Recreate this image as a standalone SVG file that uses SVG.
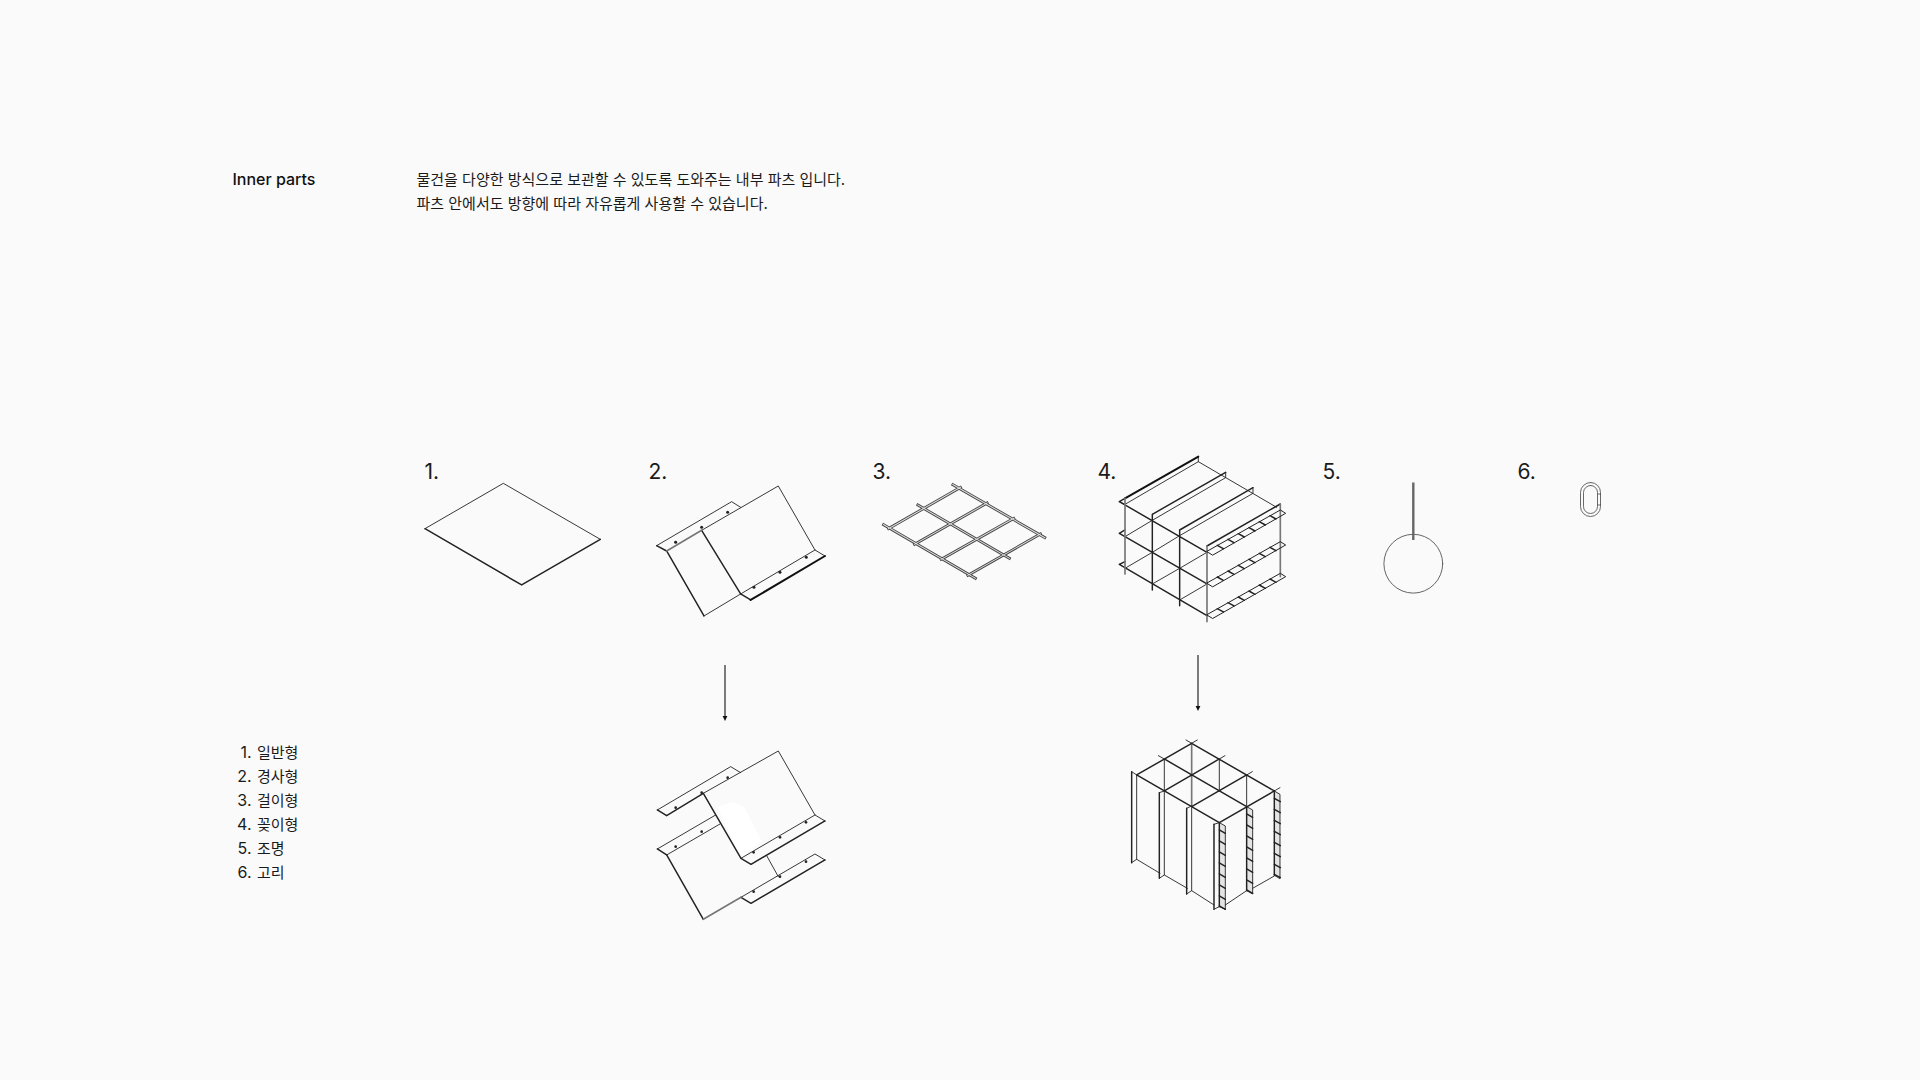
<svg xmlns="http://www.w3.org/2000/svg" xmlns:xlink="http://www.w3.org/1999/xlink" width="1920" height="1080" viewBox="0 0 1920 1080">
<style>
text{font-family:Inter,"Noto Sans CJK KR","Noto Sans",sans-serif;fill:#1a1a1a}
.t{font-size:15px}
.h{font-size:16px;font-weight:500;fill:#111}
.n{font-size:21px;font-weight:400}
.m{font-size:16px}
.e{text-anchor:end}
path,rect,circle,polygon{fill:none;stroke:#222;stroke-linejoin:round;stroke-linecap:round}
.z{stroke-width:2.7}
.k{stroke-width:4.4;stroke:#222}
.b{stroke-width:6;stroke:#111}
.g{stroke-width:5;stroke:#777}
.d{fill:#222;stroke:none}
.ro{stroke-width:8.5;stroke:#444;stroke-linecap:butt}
.ri{stroke-width:3.2;stroke:#ddd;stroke-linecap:butt}
.ar{stroke:#444;stroke-width:1.4;stroke-linecap:butt}
.ah{fill:#111;stroke:none}
.lad{fill:#e4e4e4;stroke:none}
</style>
<defs>
<g id="strip">
<path class="z" d="M351 319L571 195L587 205L369 330Z" style="stroke-width:3"/>
<path class="k" d="M382 301L400 311M414 283L432 293M445 266L463 276M477 248L495 258M508 230L526 240M540 212L558 222"/>
</g>
<g id="rungs">
<path class="k" d="M0 22L18 32M0 55L18 65M0 88L18 98M0 121L18 131M0 154L18 164M0 187L18 197M0 220L18 230M0 250L18 260"/>
</g>
</defs>
<rect width="1920" height="1080" style="fill:#fafafa;stroke:none"/>

<g id="header">
<text class="h" x="232.5" y="185">Inner parts</text>
<text class="t" x="416.5" y="185">물건을 다양한 방식으로 보관할 수 있도록 도와주는 내부 파츠 입니다.</text>
<text class="t" x="416.5" y="209">파츠 안에서도 방향에 따라 자유롭게 사용할 수 있습니다.</text>
</g>

<g id="legend">
<text class="t" y="757.5"><tspan class="e m" x="251.5">1.</tspan><tspan x="257">일반형</tspan></text>
<text class="t" y="781.5"><tspan class="e m" x="251.5">2.</tspan><tspan x="257">경사형</tspan></text>
<text class="t" y="805.5"><tspan class="e m" x="251.5">3.</tspan><tspan x="257">걸이형</tspan></text>
<text class="t" y="829.5"><tspan class="e m" x="251.5">4.</tspan><tspan x="257">꽂이형</tspan></text>
<text class="t" y="853.5"><tspan class="e m" x="251.5">5.</tspan><tspan x="257">조명</tspan></text>
<text class="t" y="877.5"><tspan class="e m" x="251.5">6.</tspan><tspan x="257">고리</tspan></text>
</g>

<g id="part-1">
<text class="n" x="424.5" y="478.5">1.</text>
<g transform="translate(410 450) scale(.3333)">
<path class="z" d="M45 236L280 100L571 268"/>
<path class="k" d="M45 236L335 405L571 268"/>
</g>
</g>

<g id="part-2">
<text class="n" x="648.5" y="478.5">2.</text>
<g transform="translate(410 450) scale(.3333)">
<path class="z" d="M740 287L965 155L992 172M875 241L1105 108L1215 300L1245 318M992 432L1215 300M992 432L882 498"/>
<path class="k" d="M740 287L770 303L882 498M875 241L992 432L1022 450"/>
<path class="b" d="M1022 450L1245 318"/>
<path class="g" d="M770 303L875 241"/>
<g><circle class="d" cx="797" cy="277" r="4.5"/><circle class="d" cx="875" cy="232" r="4.5"/><circle class="d" cx="953" cy="187" r="4.5"/><circle class="d" cx="1032" cy="412" r="4.5"/><circle class="d" cx="1110" cy="367" r="4.5"/><circle class="d" cx="1189" cy="322" r="4.5"/></g>
</g>
</g>

<g id="part-3">
<text class="n" x="872.5" y="478.5">3.</text>
<g transform="translate(860 450) scale(.3333)">
<path class="ro" d="M82 238L305 110M160 285L385 157M240 330L465 203M320 378L545 250M275 102L558 265M170 163L452 327M67 222L350 387"/>
<path class="ri" d="M84 237L303 111M162 284L383 158M242 329L463 204M322 377L543 251M277 103L556 264M172 164L450 326M69 223L348 386"/>
</g>
</g>

<g id="part-4">
<text class="n" x="1097.5" y="478.5">4.</text>
<g transform="translate(1090 445) scale(.3333)">
<path class="z" d="M105 178L325 50L325 35M187 226L407 98L407 82M269 272L489 145L489 128M325 50L560 187M88 170L105 178M105 275L187 226M187 322L269 272M269 370L351 322M105 370L187 322M187 417L269 370M269 465L351 417"/>
<path class="b" d="M105 160L325 35"/>
<path class="k" d="M88 170L105 160M187 208L407 82M269 255L489 128M351 303L571 177M88 170L351 322M88 265L351 417M88 358L351 512M88 265L105 255M88 358L105 350M187 208V435M269 255V482"/>
<path class="g" d="M105 160V387M351 303V530M571 177V395"/>
<use xlink:href="#strip"/>
<use xlink:href="#strip" y="95"/>
<use xlink:href="#strip" y="190"/>
</g>
</g>

<g id="part-5">
<text class="n" x="1322.5" y="478.5">5.</text>
<circle style="stroke:#555;stroke-width:.9" cx="1413.3" cy="563.7" r="29.4"/>
<path style="stroke:#666;stroke-width:2.4;stroke-linecap:butt" d="M1413.3 482.5V540"/>
</g>

<g id="part-6">
<text class="n" x="1517.5" y="478.5">6.</text>
<rect x="1580.5" y="482.5" width="20" height="34" rx="10" style="stroke:#444;stroke-width:.8"/>
<rect x="1583.5" y="485.5" width="14" height="28" rx="7" style="stroke:#444;stroke-width:.8"/>
<path style="stroke:#444;stroke-width:.8" d="M1598 494H1600.5M1598 505H1600.5"/>
</g>

<g id="part-2-exploded">
<g transform="translate(640 650) scale(.3333)">
<polygon style="fill:#fff;stroke:none" points="232,472 275,455 312,470 365,572 312,618 303,625"/>
<path class="z" d="M52 480L272 350L302 368M190 430L415 303L525 495L555 513M303 625L525 495"/>
<path class="k" d="M52 480L80 497L190 430L303 625L333 643L555 513"/>
<path class="z" d="M52 597L227 495M80 615L240 522M303 742L525 612L555 630M380 617L415 680"/>
<path class="k" d="M52 597L80 615L190 808M303 742L333 760L555 630"/>
<path class="g" d="M190 808L303 742"/>
<g><circle class="d" cx="107" cy="473" r="4"/><circle class="d" cx="185" cy="428" r="4"/><circle class="d" cx="263" cy="383" r="4"/><circle class="d" cx="341" cy="607" r="4"/><circle class="d" cx="420" cy="562" r="4"/><circle class="d" cx="498" cy="517" r="4"/><circle class="d" cx="107" cy="590" r="4"/><circle class="d" cx="185" cy="545" r="4"/><circle class="d" cx="341" cy="725" r="4"/><circle class="d" cx="420" cy="680" r="4"/><circle class="d" cx="498" cy="635" r="4"/></g>
</g>
</g>

<g id="part-4-assembled">
<g transform="translate(1110 640) scale(.3333)">
<polygon class="lad" points="493,453 510,463 510,716 493,706"/>
<polygon class="lad" points="410,500 428,510 428,762 410,752"/>
<polygon class="lad" points="328,548 346,558 346,808 328,800"/>
<path class="z" d="M80 405V658L150 700M163 453V705L232 745M245 500V752L312 795M346 795L410 752M428 745L493 708M163 357V453M328 357V453M410 405V500"/>
<path class="g" d="M245 310V500"/>
<path class="k" d="M80 405L328 548M163 357L410 500M245 310L493 453M80 405L245 310M163 453L328 357M245 500L410 405M328 548L493 453"/>
<path class="z" d="M65 395L80 405M145 347L163 357M228 300L245 310L262 300M328 357L345 347M410 405L427 395M493 453L510 443M148 458L163 453M230 505L245 498M312 553L328 548M65 668L80 658M148 715L163 705M230 762L245 752M312 808L328 800M328 548L346 558V808L328 800M410 500L428 510V762L410 752M493 453L510 463V716L493 706"/>
<path class="k" d="M65 395V668M148 458V715M230 505V762M312 553V808M328 548V800M410 500V752M493 453V706"/>
<use xlink:href="#rungs" x="328" y="548"/>
<use xlink:href="#rungs" x="410" y="500"/>
<use xlink:href="#rungs" x="493" y="453"/>
</g>
</g>

<g id="connectors">
<path class="ar" d="M725 665V717"/>
<polygon class="ah" points="722.6,716 727.4,716 725,721"/>
<path class="ar" d="M1198 655V707"/>
<polygon class="ah" points="1195.6,706 1200.4,706 1198,711"/>
</g>
</svg>
